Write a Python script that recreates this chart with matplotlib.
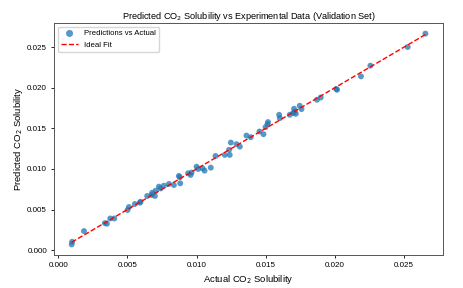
import matplotlib
matplotlib.use("Agg")
import matplotlib.pyplot as plt
import numpy as np

plt.rcParams['font.family'] = ['Liberation Sans', 'DejaVu Sans']

# values (actual vs predicted CO2 solubility)
actual = [0.00097, 0.00100, 0.00186, 0.00337, 0.00352, 0.00376, 0.00405, 0.00501,
          0.00511, 0.00554, 0.00595, 0.00590, 0.00643, 0.00675, 0.00679, 0.00704,
          0.00699, 0.00728, 0.00740, 0.00764, 0.00800, 0.00836, 0.00872, 0.00882,
          0.00879, 0.00939, 0.00964, 0.00957, 0.01000, 0.01012, 0.01043, 0.01058,
          0.01103, 0.01137, 0.01204, 0.01240, 0.01235, 0.01248, 0.01289, 0.01313,
          0.01361, 0.01392, 0.01455, 0.01484, 0.01499, 0.01513, 0.01517, 0.01597,
          0.01602, 0.01674, 0.01698, 0.01705, 0.01718, 0.01710, 0.01746, 0.01759,
          0.01871, 0.01898, 0.02016, 0.02010, 0.02189, 0.02257, 0.02527, 0.02655]
predicted = [0.00070, 0.00103, 0.00235, 0.00333, 0.00325, 0.00390, 0.00390, 0.00494,
             0.00531, 0.00568, 0.00596, 0.00585, 0.00667, 0.00679, 0.00707, 0.00732,
             0.00667, 0.00782, 0.00760, 0.00794, 0.00815, 0.00802, 0.00914, 0.00823,
             0.00898, 0.00947, 0.00955, 0.00926, 0.01028, 0.01000, 0.01009, 0.00979,
             0.01016, 0.01160, 0.01173, 0.01173, 0.01235, 0.01325, 0.01305, 0.01275,
             0.01411, 0.01391, 0.01461, 0.01428, 0.01515, 0.01552, 0.01577, 0.01667,
             0.01626, 0.01667, 0.01688, 0.01741, 0.01679, 0.01707, 0.01778, 0.01737,
             0.01852, 0.01880, 0.01975, 0.01985, 0.02140, 0.02272, 0.02502, 0.02667]

actual = np.array(actual)
predicted = np.array(predicted)

fig = plt.figure(figsize=(4.63, 2.88), dpi=100)
ax = fig.add_axes([0.1166, 0.1146, 0.8404, 0.8054])

ax.scatter(actual, predicted, s=18, alpha=0.75, color='tab:blue',
           edgecolors='none', label='Predictions vs Actual')
lo, hi = actual.min(), actual.max()
ax.plot([lo, hi], [lo, hi], 'r--', lw=1.0, label='Ideal Fit')

ax.set_xlabel('Actual CO$_2$ Solubility', fontsize=6.8, labelpad=3)
ax.set_ylabel('Predicted CO$_2$ Solubility', fontsize=6.8, labelpad=1.5)
ax.set_title('Predicted CO$_2$ Solubility vs Experimental Data (Validation Set)',
             fontsize=6.6, pad=3)
ax.tick_params(labelsize=5.8, length=2.5, width=0.6, pad=2.5)
for sp in ax.spines.values():
    sp.set_linewidth(0.7)
    sp.set_color('#555555')
ax.legend(loc='upper left', fontsize=5.6, frameon=True, borderpad=0.4,
          handlelength=2.2, framealpha=0.8, markerscale=1.2)

fig.savefig('out.png', dpi=100)
